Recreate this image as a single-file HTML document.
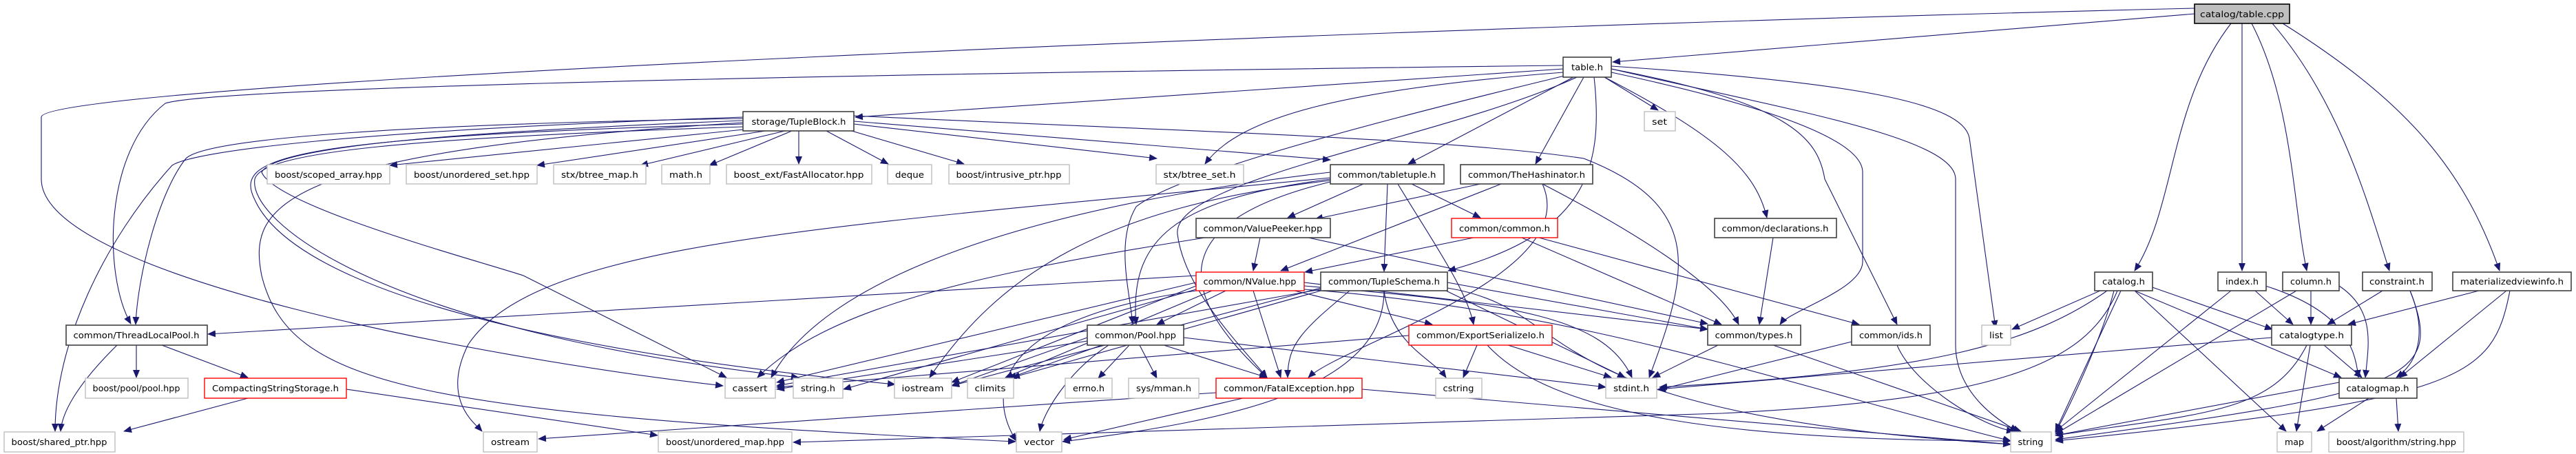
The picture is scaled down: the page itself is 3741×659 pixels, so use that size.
<!DOCTYPE html>
<html><head><meta charset="utf-8"><style>
html,body{margin:0;padding:0;background:#fff;}
svg{display:block;}
text{font-family:"DejaVu Sans","Liberation Sans",sans-serif;font-size:12.5px;fill:#000;}
.e{fill:none;stroke:#191970;stroke-width:1.1;marker-end:url(#a);}
.n rect{fill:#fff;stroke:#404040;stroke-width:1.6;}
.l rect{fill:#fff;stroke:#bfbfbf;stroke-width:1.4;}
.r rect{fill:#fff;stroke:#ff0000;stroke-width:1.4;}
</style></head><body>
<svg width="3741" height="659" viewBox="0 0 3741 659" xmlns="http://www.w3.org/2000/svg">
<defs><marker id="a" markerUnits="userSpaceOnUse" markerWidth="12" markerHeight="10" refX="11" refY="5" orient="auto"><path d="M0,0 L12,5 L0,10 z" fill="#191970"/></marker></defs>
<g>
<!-- table.cpp -->
<path class="e" d="M3187 20 L2342 90"/>
<path class="e" d="M3187 12 C2000 40 60 120 60 170 L60 260 C60 400 700 520 1050 560"/>
<path class="e" d="M3240 34 C3150 150 3160 300 3100 393"/>
<path class="e" d="M3256 34 L3256 393"/>
<path class="e" d="M3270 34 C3330 150 3330 300 3350 393"/>
<path class="e" d="M3300 34 C3400 150 3440 300 3470 393"/>
<path class="e" d="M3315 34 C3500 150 3580 250 3630 393"/>
<!-- table.h -->
<path class="e" d="M2270 100 L1242 170"/>
<path class="e" d="M2270 95 C1000 110 300 130 240 150 C150 220 150 400 190 470"/>
<path class="e" d="M2330 112 L2408 160"/>
<path class="e" d="M2270 105 C1950 130 1800 170 1750 238"/>
<path class="e" d="M2285 112 L2045 238"/>
<path class="e" d="M2300 112 L2230 238"/>
<path class="e" d="M2272 110 C1900 200 1700 260 1650 300 C1620 350 1640 420 1645 470"/>
<path class="e" d="M2290 112 C2100 200 1700 260 1710 340 C1720 420 1800 500 1840 548"/>
<path class="e" d="M2315 112 C2330 250 2300 340 2103 393"/>
<path class="e" d="M2330 112 C2500 200 2550 250 2566 316"/>
<path class="e" d="M2340 105 C2550 150 2705 200 2705 250 L2705 380 C2705 420 2600 450 2585 471"/>
<path class="e" d="M2340 100 C2600 150 2640 200 2650 260 L2755 471"/>
<path class="e" d="M2340 96 C2700 120 2850 150 2860 200 L2898 476"/>
<path class="e" d="M2340 100 C2600 160 2840 200 2840 260 L2840 500 C2840 580 2920 620 2930 626"/>
<!-- TupleBlock -->
<path class="e" d="M1110 185 L566 240"/>
<path class="e" d="M1125 188 L780 240"/>
<path class="e" d="M1140 190 L930 240"/>
<path class="e" d="M1150 190 L1030 240"/>
<path class="e" d="M1160 190 L1160 238"/>
<path class="e" d="M1200 190 L1290 238"/>
<path class="e" d="M1230 188 L1400 238"/>
<path class="e" d="M1240 180 L1680 230"/>
<path class="e" d="M1240 176 L1932 232"/>
<path class="e" d="M1079 172 C600 180 300 200 270 230 C230 280 200 400 197 471"/>
<path class="e" d="M1079 170 C500 190 280 220 250 240 C150 350 80 500 80 626"/>
<path class="e" d="M1079 175 C700 190 400 210 380 250 C400 300 700 380 760 400 L1055 548"/>
<path class="e" d="M1079 180 C400 200 340 230 370 290 C420 400 700 500 1300 558"/>
<path class="e" d="M1079 178 C400 220 360 300 380 400 C420 560 600 600 1475 641"/>
<path class="e" d="M1240 168 C1700 190 2100 200 2300 230 C2480 300 2450 400 2395 548"/>
<path class="e" d="M1079 184 C600 200 380 220 370 260 C360 320 550 480 1160 548"/>
<!-- tabletuple -->
<path class="e" d="M1932 258 C1200 330 780 350 680 500 C640 580 690 615 700 626"/>
<path class="e" d="M1980 267 L1870 316"/>
<path class="e" d="M2050 267 L2150 316"/>
<path class="e" d="M2015 267 L2010 394"/>
<path class="e" d="M2030 267 C2080 350 2130 420 2140 471"/>
<path class="e" d="M1932 260 C1700 290 1640 350 1650 471"/>
<path class="e" d="M1932 262 C1600 300 1450 400 1350 548"/>
<path class="e" d="M1932 250 C1500 300 1200 400 1120 548"/>
<path class="e" d="M1932 264 C1700 320 1700 420 1840 548"/>
<!-- TheHashinator -->
<path class="e" d="M2150 267 L1910 318"/>
<path class="e" d="M2180 267 L1860 393"/>
<path class="e" d="M2240 267 C2400 350 2500 420 2525 471"/>
<path class="e" d="M2240 267 C2300 400 1950 500 1900 548"/>
<!-- ValuePeeker -->
<path class="e" d="M1830 345 L1820 393"/>
<path class="e" d="M1900 345 L2480 470"/>
<path class="e" d="M1750 345 C1400 400 1200 450 1100 548"/>
<!-- common.h -->
<path class="e" d="M2140 345 L1895 395"/>
<path class="e" d="M2210 345 L2500 471"/>
<path class="e" d="M2235 345 L2700 471"/>
<!-- NValue -->
<path class="e" d="M1737 400 L302 485"/>
<path class="e" d="M1780 422 L1680 471"/>
<path class="e" d="M1880 422 L2080 471"/>
<path class="e" d="M1820 422 L1860 548"/>
<path class="e" d="M1894 410 L2480 478"/>
<path class="e" d="M1894 415 C2200 440 2330 460 2370 548"/>
<path class="e" d="M1737 410 L1128 555"/>
<path class="e" d="M1737 415 L1382 555"/>
<path class="e" d="M1760 422 L1460 548"/>
<path class="e" d="M1737 420 L1225 565"/>
<path class="e" d="M1737 422 C1400 470 1450 600 1476 640"/>
<path class="e" d="M1894 420 C2300 450 2600 560 2920 640"/>
<!-- TupleSchema -->
<path class="e" d="M1960 422 C1890 480 1870 500 1870 548"/>
<path class="e" d="M2010 422 C2020 500 2080 520 2100 548"/>
<path class="e" d="M2102 410 L2480 478"/>
<path class="e" d="M2100 422 L2360 548"/>
<path class="e" d="M2010 422 C2010 560 1800 610 1543 641"/>
<path class="e" d="M2102 418 C2300 450 2200 600 2920 645"/>
<path class="e" d="M1918 422 L1470 548"/>
<path class="e" d="M1918 420 L1128 560"/>
<path class="e" d="M1918 418 L1382 560"/>
<!-- Pool -->
<path class="e" d="M1579 490 L1382 560"/>
<path class="e" d="M1600 501 L1465 549"/>
<path class="e" d="M1640 501 L1595 549"/>
<path class="e" d="M1655 501 L1680 549"/>
<path class="e" d="M1690 501 L1840 548"/>
<path class="e" d="M1719 490 L2332 562"/>
<path class="e" d="M1610 501 C1550 540 1515 600 1510 626"/>
<path class="e" d="M1579 495 L1128 565"/>
<!-- ExportSerializeIo -->
<path class="e" d="M2046 487 L1128 562"/>
<path class="e" d="M2145 501 L2125 548"/>
<path class="e" d="M2190 501 L2340 548"/>
<path class="e" d="M2160 501 C2250 600 2500 640 2920 640"/>
<!-- types, ids, declarations -->
<path class="e" d="M2495 501 L2400 548"/>
<path class="e" d="M2575 501 L2935 626"/>
<path class="e" d="M2689 496 L2408 566"/>
<path class="e" d="M2755 501 C2780 560 2880 620 2925 626"/>
<path class="e" d="M2575 345 L2555 471"/>
<!-- FatalException -->
<path class="e" d="M1805 578 L1545 638"/>
<path class="e" d="M1978 565 L2920 645"/>
<path class="e" d="M1766 570 L782 637"/>
<!-- ThreadLocalPool / Compacting -->
<path class="e" d="M360 578 L180 626"/>
<path class="e" d="M503 565 L955 632"/>
<path class="e" d="M198 501 L198 548"/>
<path class="e" d="M235 501 L360 548"/>
<path class="e" d="M170 501 C110 560 90 600 88 626"/>
<!-- catalog.h -->
<path class="e" d="M3050 422 L2922 478"/>
<path class="e" d="M3120 415 L3300 478"/>
<path class="e" d="M3100 422 L3400 548"/>
<path class="e" d="M3100 422 L3320 626"/>
<path class="e" d="M3080 422 L2985 626"/>
<path class="e" d="M3070 422 C3050 500 3000 600 2985 628"/>
<path class="e" d="M3060 422 C2950 500 2800 540 2410 562"/>
<path class="e" d="M3075 422 C3030 530 2900 580 2500 600 L1152 642"/>
<!-- index/column/constraint/mvi -->
<path class="e" d="M3275 422 L3330 471"/>
<path class="e" d="M3290 415 C3400 450 3420 500 3425 548"/>
<path class="e" d="M3240 422 L2985 626"/>
<path class="e" d="M3356 422 L3356 471"/>
<path class="e" d="M3335 422 L2985 630"/>
<path class="e" d="M3397 415 C3450 450 3440 500 3435 548"/>
<path class="e" d="M3460 422 L3380 471"/>
<path class="e" d="M3500 422 C3520 470 3520 520 3480 548"/>
<path class="e" d="M3500 422 C3550 550 3500 570 2985 638"/>
<path class="e" d="M3600 422 L3410 471"/>
<path class="e" d="M3640 422 L3485 548"/>
<path class="e" d="M3645 422 C3620 550 3580 580 2985 640"/>
<!-- catalogtype / catalogmap -->
<path class="e" d="M3299 490 L2408 565"/>
<path class="e" d="M3375 501 L3430 548"/>
<path class="e" d="M3355 501 L3335 626"/>
<path class="e" d="M3350 501 C3300 600 3200 600 2985 632"/>
<path class="e" d="M3397 555 L2985 632"/>
<path class="e" d="M3440 578 L3365 626"/>
<path class="e" d="M3480 578 L3483 626"/>
</g>

<!-- nodes -->
<g class="n"><rect x="3187" y="6" width="138" height="28" style="fill:#bfbfbf;stroke:#000"/><text x="3256" y="25" text-anchor="middle" textLength="122" lengthAdjust="spacingAndGlyphs">catalog/table.cpp</text></g>
<g class="n"><rect x="2270" y="83" width="70" height="29"/><text x="2305" y="102" text-anchor="middle" textLength="46" lengthAdjust="spacingAndGlyphs">table.h</text></g>
<g class="n"><rect x="1079" y="162" width="161" height="28"/><text x="1160" y="181" text-anchor="middle" textLength="137" lengthAdjust="spacingAndGlyphs">storage/TupleBlock.h</text></g>
<g class="l"><rect x="2388" y="162" width="45" height="28"/><text x="2410" y="181" text-anchor="middle" textLength="22" lengthAdjust="spacingAndGlyphs">set</text></g>

<g class="l"><rect x="388" y="239" width="178" height="28"/><text x="477" y="258" text-anchor="middle" textLength="156" lengthAdjust="spacingAndGlyphs">boost/scoped_array.hpp</text></g>
<g class="l"><rect x="590" y="239" width="190" height="28"/><text x="685" y="258" text-anchor="middle" textLength="168" lengthAdjust="spacingAndGlyphs">boost/unordered_set.hpp</text></g>
<g class="l"><rect x="804" y="239" width="134" height="28"/><text x="871" y="258" text-anchor="middle" textLength="112" lengthAdjust="spacingAndGlyphs">stx/btree_map.h</text></g>
<g class="l"><rect x="961" y="239" width="70" height="28"/><text x="996" y="258" text-anchor="middle" textLength="48" lengthAdjust="spacingAndGlyphs">math.h</text></g>
<g class="l"><rect x="1055" y="239" width="211" height="28"/><text x="1160" y="258" text-anchor="middle" textLength="189" lengthAdjust="spacingAndGlyphs">boost_ext/FastAllocator.hpp</text></g>
<g class="l"><rect x="1289" y="239" width="64" height="28"/><text x="1321" y="258" text-anchor="middle" textLength="42" lengthAdjust="spacingAndGlyphs">deque</text></g>
<g class="l"><rect x="1378" y="239" width="175" height="28"/><text x="1465" y="258" text-anchor="middle" textLength="153" lengthAdjust="spacingAndGlyphs">boost/intrusive_ptr.hpp</text></g>
<g class="l"><rect x="1679" y="239" width="127" height="28"/><text x="1742" y="258" text-anchor="middle" textLength="105" lengthAdjust="spacingAndGlyphs">stx/btree_set.h</text></g>
<g class="n"><rect x="1932" y="239" width="165" height="28"/><text x="2014" y="258" text-anchor="middle" textLength="143" lengthAdjust="spacingAndGlyphs">common/tabletuple.h</text></g>
<g class="n"><rect x="2121" y="239" width="192" height="28"/><text x="2217" y="258" text-anchor="middle" textLength="170" lengthAdjust="spacingAndGlyphs">common/TheHashinator.h</text></g>

<g class="n"><rect x="1737" y="317" width="195" height="28"/><text x="1834" y="336" text-anchor="middle" textLength="173" lengthAdjust="spacingAndGlyphs">common/ValuePeeker.hpp</text></g>
<g class="r"><rect x="2108" y="317" width="154" height="28"/><text x="2185" y="336" text-anchor="middle" textLength="132" lengthAdjust="spacingAndGlyphs">common/common.h</text></g>
<g class="n"><rect x="2490" y="317" width="177" height="28"/><text x="2578" y="336" text-anchor="middle" textLength="155" lengthAdjust="spacingAndGlyphs">common/declarations.h</text></g>

<g class="r"><rect x="1737" y="395" width="157" height="27"/><text x="1815" y="413" text-anchor="middle" textLength="135" lengthAdjust="spacingAndGlyphs">common/NValue.hpp</text></g>
<g class="n"><rect x="1918" y="395" width="184" height="27"/><text x="2010" y="413" text-anchor="middle" textLength="162" lengthAdjust="spacingAndGlyphs">common/TupleSchema.h</text></g>
<g class="n"><rect x="3042" y="395" width="84" height="27"/><text x="3084" y="413" text-anchor="middle" textLength="62" lengthAdjust="spacingAndGlyphs">catalog.h</text></g>
<g class="n"><rect x="3221" y="395" width="70" height="27"/><text x="3256" y="413" text-anchor="middle" textLength="48" lengthAdjust="spacingAndGlyphs">index.h</text></g>
<g class="n"><rect x="3315" y="395" width="82" height="27"/><text x="3356" y="413" text-anchor="middle" textLength="60" lengthAdjust="spacingAndGlyphs">column.h</text></g>
<g class="n"><rect x="3431" y="395" width="101" height="27"/><text x="3481" y="413" text-anchor="middle" textLength="80" lengthAdjust="spacingAndGlyphs">constraint.h</text></g>
<g class="n"><rect x="3562" y="395" width="172" height="27"/><text x="3648" y="413" text-anchor="middle" textLength="150" lengthAdjust="spacingAndGlyphs">materializedviewinfo.h</text></g>

<g class="n"><rect x="96" y="472" width="205" height="29"/><text x="198" y="491" text-anchor="middle" textLength="183" lengthAdjust="spacingAndGlyphs">common/ThreadLocalPool.h</text></g>
<g class="n"><rect x="1579" y="472" width="140" height="29"/><text x="1649" y="491" text-anchor="middle" textLength="118" lengthAdjust="spacingAndGlyphs">common/Pool.hpp</text></g>
<g class="r"><rect x="2046" y="472" width="208" height="29"/><text x="2150" y="491" text-anchor="middle" textLength="186" lengthAdjust="spacingAndGlyphs">common/ExportSerializeIo.h</text></g>
<g class="n"><rect x="2480" y="472" width="135" height="29"/><text x="2547" y="491" text-anchor="middle" textLength="113" lengthAdjust="spacingAndGlyphs">common/types.h</text></g>
<g class="n"><rect x="2689" y="472" width="114" height="29"/><text x="2746" y="491" text-anchor="middle" textLength="92" lengthAdjust="spacingAndGlyphs">common/ids.h</text></g>
<g class="l"><rect x="2878" y="472" width="42" height="29"/><text x="2899" y="491" text-anchor="middle" textLength="20" lengthAdjust="spacingAndGlyphs">list</text></g>
<g class="n"><rect x="3299" y="472" width="116" height="29"/><text x="3357" y="491" text-anchor="middle" textLength="94" lengthAdjust="spacingAndGlyphs">catalogtype.h</text></g>

<g class="l"><rect x="124" y="549" width="149" height="29"/><text x="198" y="568" text-anchor="middle" textLength="127" lengthAdjust="spacingAndGlyphs">boost/pool/pool.hpp</text></g>
<g class="r"><rect x="297" y="549" width="206" height="29"/><text x="400" y="568" text-anchor="middle" textLength="184" lengthAdjust="spacingAndGlyphs">CompactingStringStorage.h</text></g>
<g class="l"><rect x="1053" y="549" width="73" height="29"/><text x="1089" y="568" text-anchor="middle" textLength="51" lengthAdjust="spacingAndGlyphs">cassert</text></g>
<g class="l"><rect x="1152" y="549" width="72" height="29"/><text x="1188" y="568" text-anchor="middle" textLength="50" lengthAdjust="spacingAndGlyphs">string.h</text></g>
<g class="l"><rect x="1299" y="549" width="83" height="29"/><text x="1340" y="568" text-anchor="middle" textLength="61" lengthAdjust="spacingAndGlyphs">iostream</text></g>
<g class="l"><rect x="1405" y="549" width="67" height="29"/><text x="1438" y="568" text-anchor="middle" textLength="45" lengthAdjust="spacingAndGlyphs">climits</text></g>
<g class="l"><rect x="1547" y="549" width="68" height="29"/><text x="1581" y="568" text-anchor="middle" textLength="46" lengthAdjust="spacingAndGlyphs">errno.h</text></g>
<g class="l"><rect x="1639" y="549" width="102" height="29"/><text x="1690" y="568" text-anchor="middle" textLength="80" lengthAdjust="spacingAndGlyphs">sys/mman.h</text></g>
<g class="r"><rect x="1766" y="549" width="212" height="29"/><text x="1872" y="568" text-anchor="middle" textLength="190" lengthAdjust="spacingAndGlyphs">common/FatalException.hpp</text></g>
<g class="l"><rect x="2085" y="549" width="67" height="29"/><text x="2118" y="568" text-anchor="middle" textLength="45" lengthAdjust="spacingAndGlyphs">cstring</text></g>
<g class="l"><rect x="2332" y="549" width="74" height="29"/><text x="2369" y="568" text-anchor="middle" textLength="52" lengthAdjust="spacingAndGlyphs">stdint.h</text></g>
<g class="n"><rect x="3397" y="549" width="113" height="29"/><text x="3453" y="568" text-anchor="middle" textLength="91" lengthAdjust="spacingAndGlyphs">catalogmap.h</text></g>

<g class="l"><rect x="6" y="627" width="161" height="29"/><text x="86" y="646" text-anchor="middle" textLength="139" lengthAdjust="spacingAndGlyphs">boost/shared_ptr.hpp</text></g>
<g class="l"><rect x="702" y="627" width="78" height="29"/><text x="741" y="646" text-anchor="middle" textLength="56" lengthAdjust="spacingAndGlyphs">ostream</text></g>
<g class="l"><rect x="956" y="627" width="194" height="29"/><text x="1053" y="646" text-anchor="middle" textLength="172" lengthAdjust="spacingAndGlyphs">boost/unordered_map.hpp</text></g>
<g class="l"><rect x="1476" y="627" width="66" height="29"/><text x="1509" y="646" text-anchor="middle" textLength="44" lengthAdjust="spacingAndGlyphs">vector</text></g>
<g class="l"><rect x="2920" y="627" width="59" height="29"/><text x="2949" y="646" text-anchor="middle" textLength="37" lengthAdjust="spacingAndGlyphs">string</text></g>
<g class="l"><rect x="3307" y="627" width="50" height="29"/><text x="3332" y="646" text-anchor="middle" textLength="28" lengthAdjust="spacingAndGlyphs">map</text></g>
<g class="l"><rect x="3382" y="627" width="196" height="29"/><text x="3480" y="646" text-anchor="middle" textLength="174" lengthAdjust="spacingAndGlyphs">boost/algorithm/string.hpp</text></g>
</svg>
</body></html>
